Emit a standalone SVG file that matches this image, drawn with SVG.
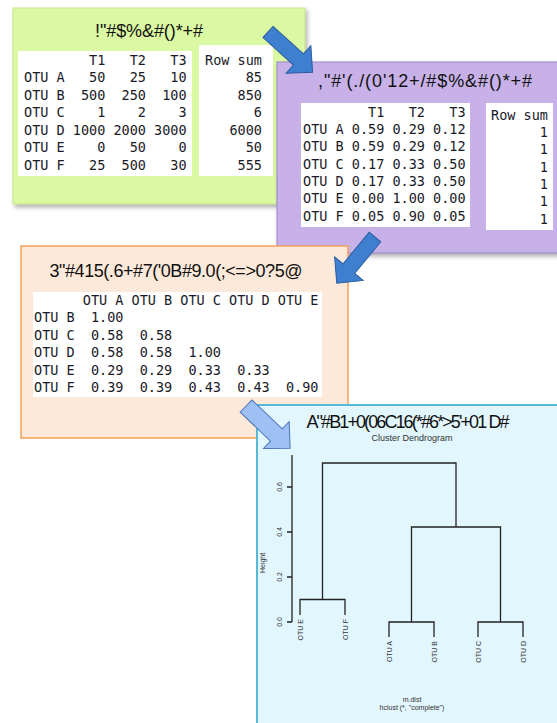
<svg xmlns="http://www.w3.org/2000/svg" width="557" height="723" viewBox="0 0 557 723">
  <defs>
    <filter id="shadow" x="-5%" y="-5%" width="115%" height="115%">
      <feDropShadow dx="2" dy="3" stdDeviation="2" flood-color="#555" flood-opacity="0.45"/>
    </filter>
  </defs>
  <style>
    .title { font-family: "Liberation Sans", Arial, sans-serif; font-size: 18px; fill: #111; }
    .mono { font-family: "DejaVu Sans Mono", "Liberation Mono", monospace; font-size: 13.5px; fill: #1a1a28; white-space: pre; }
    .num { text-anchor: end; }
    .sheet { fill: #ffffff; }
    .small { font-family: "Liberation Sans", Arial, sans-serif; font-size: 7px; fill: #333; }
    .branch { fill: none; stroke: #222; stroke-width: 1.3; }
    .dark-arrow { fill: #3f7fcf; stroke: #2b5c9e; stroke-width: 1; }
    .light-arrow { fill: #9fc0f4; stroke: #4a72b6; stroke-width: 1; }
  </style>

  <!-- Raw counts table -->
  <g id="raw-counts">
    <rect x="13" y="8" width="292" height="196" fill="#dbf8a2" stroke="#c6e58d" stroke-width="1" filter="url(#shadow)"/>
    <text class="title" x="149" y="37" text-anchor="middle" textLength="108" lengthAdjust="spacing">!"#$%&amp;#()*+#</text>
    <rect class="sheet" x="18" y="51" width="174" height="125"/>
    <rect class="sheet" x="199" y="45" width="74" height="131"/>
    <text class="mono" x="24" y="65" xml:space="preserve">        T1   T2   T3</text>
    <text class="mono" x="24" y="82" xml:space="preserve">OTU A   50   25   10</text>
    <text class="mono" x="24" y="99.5" xml:space="preserve">OTU B  500  250  100</text>
    <text class="mono" x="24" y="117" xml:space="preserve">OTU C    1    2    3</text>
    <text class="mono" x="24" y="134.5" xml:space="preserve">OTU D 1000 2000 3000</text>
    <text class="mono" x="24" y="152" xml:space="preserve">OTU E    0   50    0</text>
    <text class="mono" x="24" y="169.5" xml:space="preserve">OTU F   25  500   30</text>
    <text class="mono" x="205" y="65" xml:space="preserve">Row sum</text>
    <text class="mono num" x="262" y="82">85</text>
    <text class="mono num" x="262" y="99.5">850</text>
    <text class="mono num" x="262" y="117">6</text>
    <text class="mono num" x="262" y="134.5">6000</text>
    <text class="mono num" x="262" y="152">50</text>
    <text class="mono num" x="262" y="169.5">555</text>
  </g>

  <!-- Relative abundance table -->
  <g id="relative-abundance">
    <rect x="277" y="62" width="290" height="191" fill="#c7b1e8" stroke="#9a84c6" stroke-width="1" filter="url(#shadow)"/>
    <text class="title" x="425" y="87" text-anchor="middle" textLength="214" lengthAdjust="spacing">,"#'(./(0'12+/#$%&amp;#()*+#</text>
    <rect class="sheet" x="301" y="103" width="169" height="124"/>
    <rect class="sheet" x="486" y="103" width="67" height="127"/>
    <text class="mono" x="303" y="117" xml:space="preserve">        T1   T2   T3</text>
    <text class="mono" x="303" y="134" xml:space="preserve">OTU A 0.59 0.29 0.12</text>
    <text class="mono" x="303" y="151.3" xml:space="preserve">OTU B 0.59 0.29 0.12</text>
    <text class="mono" x="303" y="168.6" xml:space="preserve">OTU C 0.17 0.33 0.50</text>
    <text class="mono" x="303" y="185.9" xml:space="preserve">OTU D 0.17 0.33 0.50</text>
    <text class="mono" x="303" y="203.2" xml:space="preserve">OTU E 0.00 1.00 0.00</text>
    <text class="mono" x="303" y="220.5" xml:space="preserve">OTU F 0.05 0.90 0.05</text>
    <text class="mono" x="491" y="120" xml:space="preserve">Row sum</text>
    <text class="mono num" x="548" y="137">1</text>
    <text class="mono num" x="548" y="154.3">1</text>
    <text class="mono num" x="548" y="171.6">1</text>
    <text class="mono num" x="548" y="188.9">1</text>
    <text class="mono num" x="548" y="206.2">1</text>
    <text class="mono num" x="548" y="223.5">1</text>
  </g>

  <!-- Distance matrix -->
  <g id="distance-matrix">
    <rect x="21" y="246" width="327" height="192" fill="#fde9da" stroke="#f4a05a" stroke-width="1.5"/>
    <text class="title" x="176" y="277" text-anchor="middle" textLength="253" lengthAdjust="spacing">3"#415(.6+#7('0B#9.0(;&lt;=&gt;0?5@</text>
    <rect class="sheet" x="33" y="292" width="289" height="105"/>
    <text class="mono" x="34" y="304.5" xml:space="preserve">      OTU A OTU B OTU C OTU D OTU E</text>
    <text class="mono" x="34" y="322" xml:space="preserve">OTU B  1.00</text>
    <text class="mono" x="34" y="339.5" xml:space="preserve">OTU C  0.58  0.58</text>
    <text class="mono" x="34" y="357" xml:space="preserve">OTU D  0.58  0.58  1.00</text>
    <text class="mono" x="34" y="374.5" xml:space="preserve">OTU E  0.29  0.29  0.33  0.33</text>
    <text class="mono" x="34" y="392" xml:space="preserve">OTU F  0.39  0.39  0.43  0.43  0.90</text>
  </g>

  <!-- Cluster dendrogram -->
  <g id="dendrogram">
    <rect x="257" y="405" width="310" height="330" fill="#e2f6fd" stroke="#58b8d8" stroke-width="2"/>
    <text class="title" x="408" y="428" text-anchor="middle" font-size="19" textLength="203" lengthAdjust="spacing">A"#B1+0(06C16(*#6*&gt;5'+01 D#</text>
    <text x="412" y="441" text-anchor="middle" font-family="Liberation Sans, Arial, sans-serif" font-size="9" fill="#333">Cluster Dendrogram</text>
    <!-- height axis -->
    <path class="branch" d="M292 455 V622 M287 622 H292 M287 577 H292 M287 532 H292 M287 487 H292"/>
    <text class="small" text-anchor="middle" transform="translate(282 622) rotate(-90)">0.0</text>
    <text class="small" text-anchor="middle" transform="translate(282 577) rotate(-90)">0.2</text>
    <text class="small" text-anchor="middle" transform="translate(282 532) rotate(-90)">0.4</text>
    <text class="small" text-anchor="middle" transform="translate(282 487) rotate(-90)">0.6</text>
    <text class="small" text-anchor="middle" transform="translate(265 563) rotate(-90)">Height</text>
    <!-- merges -->
    <path class="branch" d="M300 615 V599.5 H345 V615"/>
    <path class="branch" d="M389 637 V622 H434 V637"/>
    <path class="branch" d="M478 637 V622 H523 V637"/>
    <path class="branch" d="M411.5 622 V527 H500.5 V622"/>
    <path class="branch" d="M322.5 599.5 V463 H456 V527"/>
    <!-- leaf labels -->
    <text class="small" text-anchor="end" transform="translate(302.5 619) rotate(-90)">OTU E</text>
    <text class="small" text-anchor="end" transform="translate(347.5 619) rotate(-90)">OTU F</text>
    <text class="small" text-anchor="end" transform="translate(391.5 641) rotate(-90)">OTU A</text>
    <text class="small" text-anchor="end" transform="translate(436.5 641) rotate(-90)">OTU B</text>
    <text class="small" text-anchor="end" transform="translate(480.5 641) rotate(-90)">OTU C</text>
    <text class="small" text-anchor="end" transform="translate(525.5 641) rotate(-90)">OTU D</text>
    <text class="small" x="412" y="702" text-anchor="middle">m.dist</text>
    <text class="small" x="412" y="710" text-anchor="middle">hclust (*, "complete")</text>
  </g>

  <!-- Block arrows between steps -->
  <g id="connectors">
    <polygon class="dark-arrow" transform="translate(268 32) rotate(42)" points="0,-7.5 41,-7.5 41,-18.5 60,0 41,18.5 41,7.5 0,7.5"/>
    <polygon class="dark-arrow" transform="translate(375 237) rotate(129.6)" points="0,-7.5 41,-7.5 41,-18.5 60,0 41,18.5 41,7.5 0,7.5"/>
    <polygon class="light-arrow" transform="translate(246 406) rotate(43.7)" points="0,-8.5 42,-8.5 42,-18.5 61,0 42,18.5 42,8.5 0,8.5"/>
  </g>
</svg>
